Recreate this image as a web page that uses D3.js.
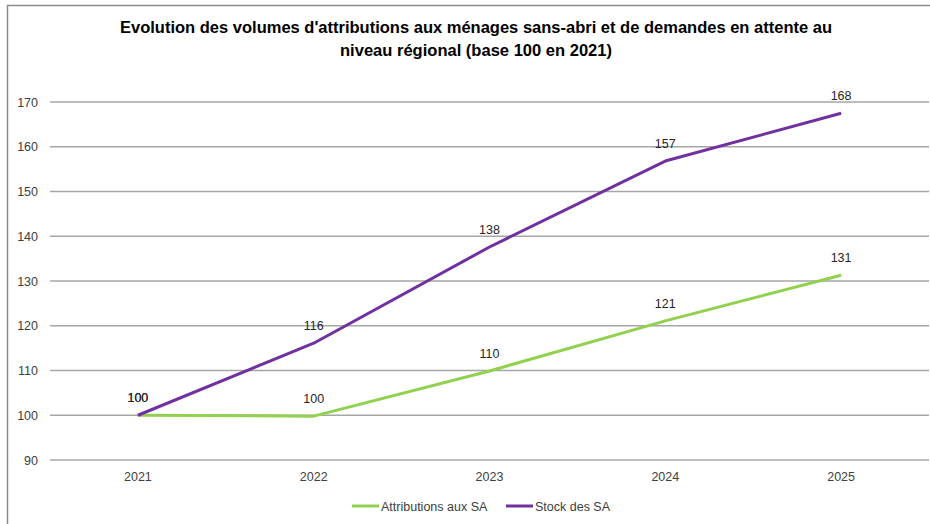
<!DOCTYPE html>
<html><head><meta charset="utf-8">
<script src="https://cdn.jsdelivr.net/npm/d3@7"></script>
<style>body{margin:0;background:#fff}svg{display:block;font-family:"Liberation Sans",Arial,sans-serif}</style>
</head><body>
<svg id="c" width="930" height="524"></svg>
<script>
const years = ["2021","2022","2023","2024","2025"];
const attributions = [100, 99.8, 109.9, 121.1, 131.3];
const stock = [100, 116.1, 137.6, 156.8, 167.5];
const yTicks = [90,100,110,120,130,140,150,160,170];
const seriesNames = ["Attributions aux SA","Stock des SA"];
const colors = ["#92D050","#7030A0"];
const titleLines = ["Evolution des volumes d'attributions aux ménages sans-abri et de demandes en attente au","niveau régional (base 100 en 2021)"];

const svg = d3.select("#c");
// frame
svg.append("path").attr("d","M7.5,524 V5.5 H930").attr("fill","none").attr("stroke","#8c8c8c").attr("stroke-width",1.5);

const x = d3.scaleBand().domain(years).range([50,929]);
const y = d3.scaleLinear().domain([90,170]).range([460,102]);

// grid
svg.append("g").selectAll("line").data(yTicks).join("line")
  .attr("x1",50).attr("x2",929).attr("y1",d=>y(d)).attr("y2",d=>y(d))
  .attr("stroke","#a6a6a6").attr("stroke-width",1.3);

const yAxis = d3.axisLeft(y).tickValues(yTicks).tickSize(0).tickPadding(0);
const gy = svg.append("g").attr("transform","translate(38,0)").call(yAxis);
gy.select(".domain").remove();
gy.selectAll("text").attr("font-size",12.5).attr("fill","#404040").attr("font-family","Liberation Sans, Arial, sans-serif");

const xAxis = d3.axisBottom(x).tickSize(0).tickPadding(0);
const gx = svg.append("g").attr("transform","translate(0,472)").call(xAxis);
gx.select(".domain").remove();
gx.selectAll("text").attr("font-size",12.5).attr("fill","#404040").attr("font-family","Liberation Sans, Arial, sans-serif");

const cx = d => x(d) + x.bandwidth()/2;
const line = d3.line().x((d,i)=>cx(years[i])).y(d=>y(d));
[attributions, stock].forEach((s,k)=>{
  svg.append("path").datum(s).attr("d",line).attr("fill","none")
    .attr("stroke",colors[k]).attr("stroke-width",3).attr("stroke-linejoin","round");
});
// data labels
[attributions, stock].forEach((s,k)=>{
  svg.append("g").selectAll("text").data(s).join("text")
    .attr("x",(d,i)=>cx(years[i])).attr("y",d=>y(d)-13)
    .attr("text-anchor","middle").attr("font-size",12.5).attr("fill","#262626")
    .text(d=>Math.round(d));
});

// title
svg.append("g").selectAll("text").data(titleLines).join("text")
  .attr("x",476).attr("y",(d,i)=>33+i*23).attr("text-anchor","middle")
  .attr("font-size",16.5).attr("font-weight","bold").attr("fill","#000")
  .attr("textLength",(d,i)=>i===0?712:272).attr("lengthAdjust","spacingAndGlyphs")
  .text(d=>d);

// legend
const leg = svg.append("g");
const legX = [352, 506];
seriesNames.forEach((n,k)=>{
  leg.append("line").attr("x1",legX[k]).attr("x2",legX[k]+27).attr("y1",506).attr("y2",506)
    .attr("stroke",colors[k]).attr("stroke-width",3);
  leg.append("text").attr("x",legX[k]+29).attr("y",510.5).attr("font-size",12.5).attr("fill","#404040").text(n);
});
</script>
</body></html>
